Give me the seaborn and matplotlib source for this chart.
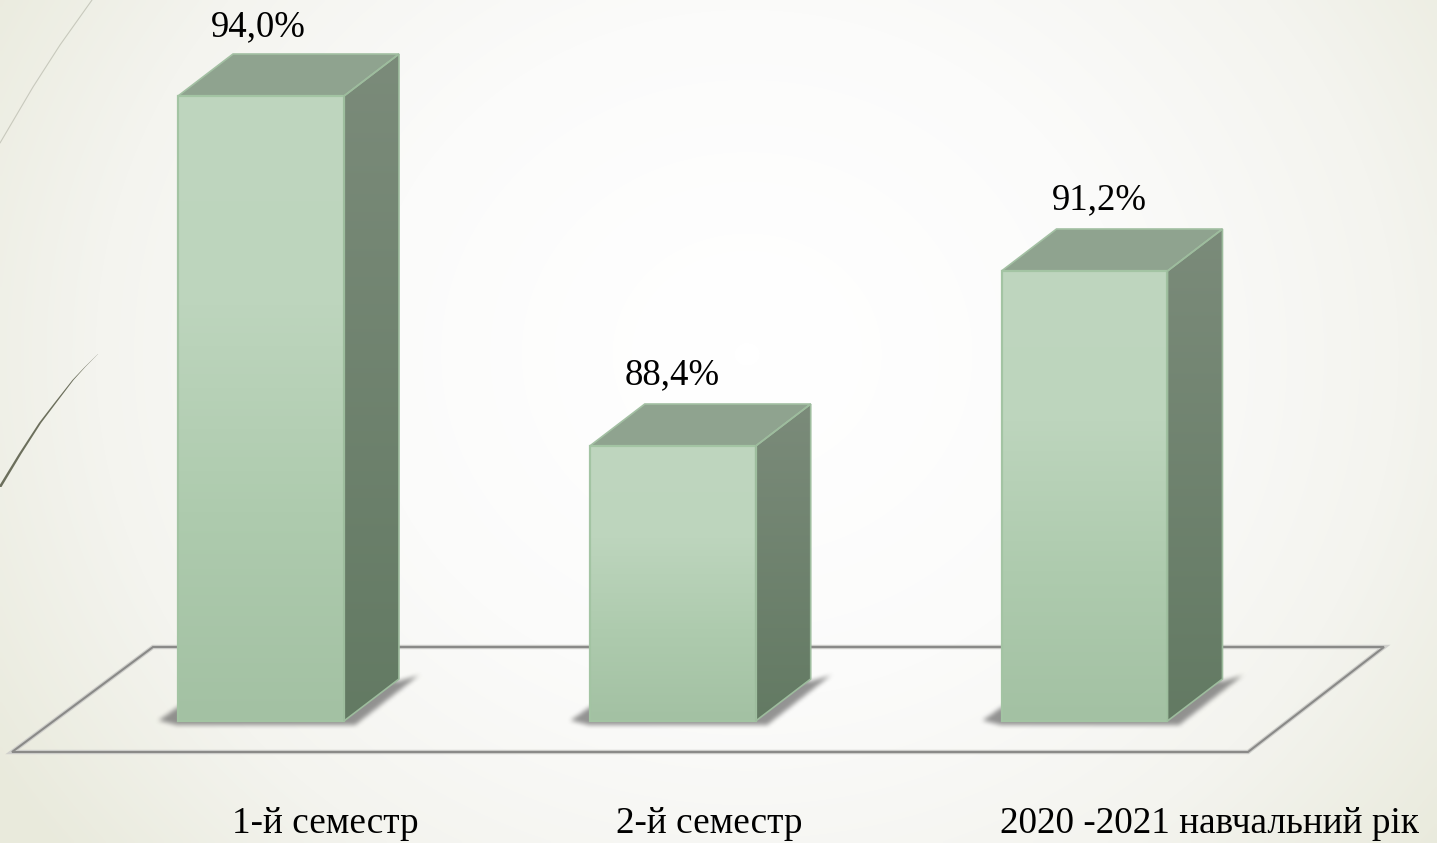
import numpy as np
import seaborn as sns
import matplotlib.pyplot as plt
from matplotlib.patches import Polygon
from matplotlib.path import Path
from matplotlib.colors import LinearSegmentedColormap

semesters = ['1-й семестр', '2-й семестр', '2020 -2021 навчальний рік']
pass_rate = [94.0, 88.4, 91.2]
value_labels = ['94,0%', '88,4%', '91,2%']

BASE = 84.0
WIDTH, HEIGHT = 1437, 843
PX_X = 1 / 411.75  # one pixel in axis units
PX_Y = 1 / 62.5
DEPTH_X, DEPTH_Y = 55 * PX_X, 42 * PX_Y

sns.set_style('white')
plt.rcParams['font.family'] = ['Liberation Serif', 'DejaVu Serif']


def soft_shadow():
    # Blurred alpha mask around a bar foot, in pixels from the bar's lower left corner.
    outline = Path([(-20, 0), (0, 14), (222, 40), (240, 45), (176, -5), (0, -5)])
    us, vs = np.meshgrid(np.arange(-40, 261), np.arange(-25, 71))
    mask = outline.contains_points(np.c_[us.ravel(), vs.ravel()]).reshape(us.shape).astype(float)
    kernel = np.hanning(13)
    kernel /= kernel.sum()
    for axis in (0, 1):
        mask = np.apply_along_axis(lambda row: np.convolve(row, kernel, mode='same'), axis, mask)
    rgba = np.zeros(mask.shape + (4,))
    rgba[..., :3] = 0.33
    rgba[..., 3] = mask * 0.62
    return rgba


fig = plt.figure(figsize=(WIDTH / 100, HEIGHT / 100), dpi=100)

# Slide background, in pixel coordinates.
bg = fig.add_axes([0, 0, 1, 1])
yy, xx = np.mgrid[0:1:211j, 0:1:360j]
dist = np.clip(np.sqrt(((xx - 0.52) / 0.62) ** 2 + ((yy - 0.42) / 0.95) ** 2), 0, 1)
bg_cmap = LinearSegmentedColormap.from_list(
    'bg', ['#ffffff', '#fbfbfa', '#f4f4ef', '#e9eadc'])
bg.imshow(dist ** 1.3, cmap=bg_cmap, vmin=0, vmax=1, aspect='auto',
          extent=(0, WIDTH, HEIGHT, 0), interpolation='bilinear')

# Grass strokes on the left edge.
bg.plot([92, 60, 33, 0], [0, 45, 87, 143], color='#c8c9bd', lw=0.8)
blade_x = np.array([98, 85, 73, 56, 40, 20, 0])
blade_y = np.array([354, 367, 380, 402, 423, 454, 487])
blade_w = np.array([0.1, 0.3, 0.6, 0.9, 1.1, 1.3, 1.5])
bg.fill(np.r_[blade_x - blade_w, (blade_x + blade_w)[::-1]],
        np.r_[blade_y, blade_y[::-1]], color='#6c6f5c', lw=0)

# Chart floor.
floor = [(12, 752), (153, 647), (1384, 647), (1248, 752)]
bg.add_patch(Polygon(floor, closed=True, fill=False, ec='#d0d0cc', lw=3.2, joinstyle='miter'))
bg.add_patch(Polygon(floor, closed=True, fill=False, ec='#8a8a88', lw=1.5, joinstyle='miter'))

for name, px in zip(semesters, [325, 709, 1210]):
    bg.text(px, 833, name, fontsize=26.8, ha='center', va='baseline', color='black')

bg.set_xlim(0, WIDTH)
bg.set_ylim(HEIGHT, 0)
bg.axis('off')

# Chart itself, scaled so that 84 % sits on the floor of the bars.
ax = fig.add_axes([0, 0, 1, 1])
ax.patch.set_alpha(0)
sns.barplot(x=semesters, y=pass_rate, width=0.403, color='#a5c5a5', saturation=1, ax=ax, zorder=3)

front_cmap = LinearSegmentedColormap.from_list('front', ['#a3c1a3', '#aecbae', '#bdd5bd', '#bfd6bf'])
side_cmap = LinearSegmentedColormap.from_list('side', ['#637a63', '#7b8b7a'])
gradient = np.linspace(0, 1, 256).reshape(-1, 1)
shadow_img = soft_shadow()
xlim = (-261 * PX_X, (WIDTH - 261) * PX_X)
ylim = (BASE - 122 * PX_Y, BASE + 721 * PX_Y)

for i, (bar, value) in enumerate(zip(ax.patches, pass_rate)):
    bar.set_y(BASE)
    bar.set_height(value - BASE)
    bar.set_facecolor('none')
    bar.set_edgecolor('#a3c4a3')
    bar.set_linewidth(1.6)
    left, right = bar.get_x(), bar.get_x() + bar.get_width()

    # Soft shadow on the floor.
    ax.imshow(shadow_img, aspect='auto', origin='lower', zorder=1,
              extent=(left - 40 * PX_X, left + 261 * PX_X, BASE - 25 * PX_Y, BASE + 71 * PX_Y))

    # Front face.
    front = ax.imshow(gradient, cmap=front_cmap, aspect='auto', origin='lower',
                      extent=(left, right, BASE, value), zorder=2)
    front.set_clip_path(bar)

    # Right face.
    side_pts = [(right, BASE), (right + DEPTH_X, BASE + DEPTH_Y),
                (right + DEPTH_X, value + DEPTH_Y), (right, value)]
    side_poly = Polygon(side_pts, closed=True, fc='none', ec='#9dbc9d', lw=1.2, zorder=3)
    ax.add_patch(side_poly)
    side = ax.imshow(gradient, cmap=side_cmap, aspect='auto', origin='lower',
                     extent=(right, right + DEPTH_X, BASE, value + DEPTH_Y), zorder=2)
    side.set_clip_path(side_poly)

    # Top face.
    top_pts = [(left, value), (right, value),
               (right + DEPTH_X, value + DEPTH_Y), (left + DEPTH_X, value + DEPTH_Y)]
    ax.add_patch(Polygon(top_pts, closed=True, fc='#8fa38f', ec='#a3c0a3', lw=1.2, zorder=2.5))

    ax.text(i + [-3, -1, 15][i] * PX_X, value + [60, 62, 62][i] * PX_Y, value_labels[i],
            fontsize=26.5, ha='center', va='baseline', color='black', zorder=4)

ax.set_xlim(*xlim)
ax.set_ylim(*ylim)
ax.axis('off')

plt.savefig('out.png', dpi=100)
plt.close('all')
